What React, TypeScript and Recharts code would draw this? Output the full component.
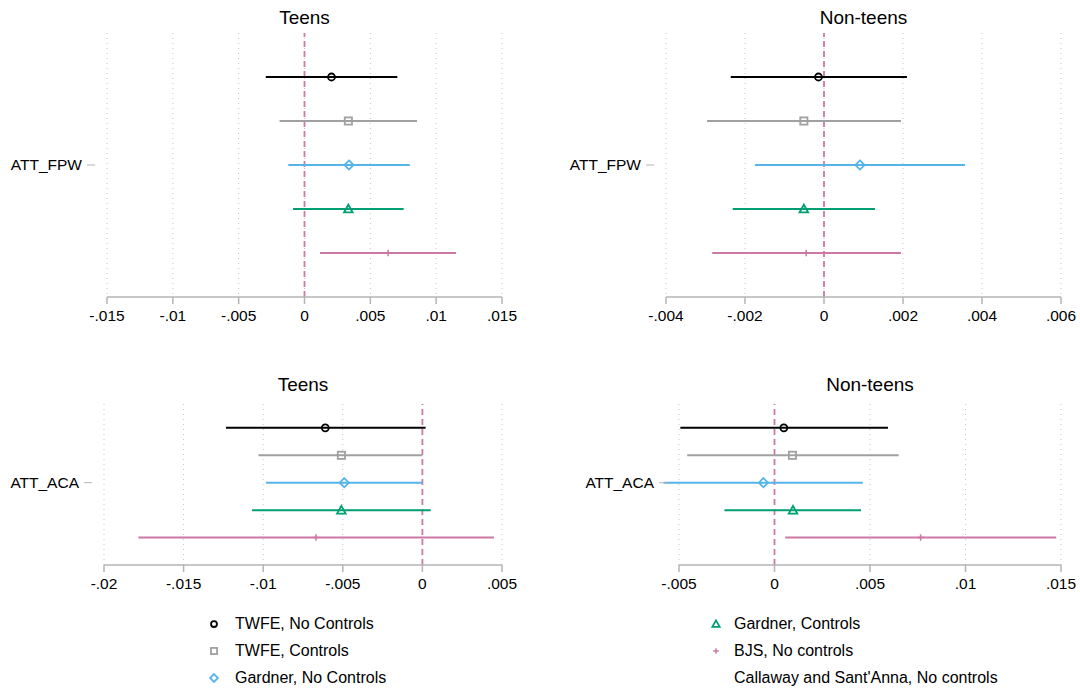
import React from "react";
import {
  ScatterChart,
  Scatter,
  XAxis,
  YAxis,
  CartesianGrid,
  ReferenceLine,
  ErrorBar,
} from "recharts";

const methods = [
  "TWFE, No Controls",
  "TWFE, Controls",
  "Gardner, No Controls",
  "Gardner, Controls",
  "BJS, No controls",
];
const extraLegend = "Callaway and Sant'Anna, No controls";
const rowPos = [5, 4, 3, 2, 1];

const colors = ["#000000", "#a0a0a0", "#56b4e9", "#009e73", "#cc79a7"];
const shapes = ["circle", "square", "diamond", "triangle", "plus"];

// ATT_FPW, teens
const fpwTeensEst = [0.00205, 0.00333, 0.00338, 0.00333, 0.00635];
const fpwTeensLo = [-0.00294, -0.00189, -0.00123, -0.00087, 0.00118];
const fpwTeensHi = [0.00705, 0.00855, 0.008, 0.00753, 0.01151];

// ATT_FPW, non-teens
const fpwNonEst = [-0.00014, -0.00051, 0.00091, -0.00051, -0.00045];
const fpwNonLo = [-0.00236, -0.00296, -0.00175, -0.00231, -0.00283];
const fpwNonHi = [0.0021, 0.00195, 0.00357, 0.00129, 0.00195];

// ATT_ACA, teens
const acaTeensEst = [-0.0061, -0.00509, -0.00491, -0.00509, -0.00669];
const acaTeensLo = [-0.01234, -0.0103, -0.00983, -0.0107, -0.01784];
const acaTeensHi = [0.0002, 0.0, 0.0, 0.00052, 0.0045];

// ATT_ACA, non-teens
const acaNonEst = [0.00049, 0.00094, -0.00058, 0.00097, 0.00765];
const acaNonLo = [-0.00493, -0.00457, -0.00581, -0.00262, 0.00056];
const acaNonHi = [0.00594, 0.0065, 0.00462, 0.00453, 0.01475];

const ticksFpwTeens = [-0.015, -0.01, -0.005, 0, 0.005, 0.01, 0.015];
const ticksFpwNon = [-0.004, -0.002, 0, 0.002, 0.004, 0.006];
const ticksAcaTeens = [-0.02, -0.015, -0.01, -0.005, 0, 0.005];
const ticksAcaNon = [-0.005, 0, 0.005, 0.01, 0.015];

const FONT = "'Liberation Sans', Arial, Helvetica, sans-serif";
const AXIS_GRAY = "#b4b4b4";

function fmtTick(v: number): string {
  if (v === 0) return "0";
  const s = String(Math.abs(v)).replace(/^0/, "");
  return (v < 0 ? "-" : "") + s;
}

function Marker({ kind, cx, cy, color, size = 1 }: { kind: string; cx: number; cy: number; color: string; size?: number }) {
  const sw = 1.8;
  if (kind === "circle") {
    return <circle cx={cx} cy={cy} r={3.5 * size} fill="none" stroke={color} strokeWidth={sw} />;
  }
  if (kind === "square") {
    const h = 3.6 * size;
    return <rect x={cx - h} y={cy - h} width={2 * h} height={2 * h} fill="none" stroke={color} strokeWidth={sw} />;
  }
  if (kind === "diamond") {
    const h = 4.6 * size;
    return (
      <path
        d={`M${cx},${cy - h}L${cx + h},${cy}L${cx},${cy + h}L${cx - h},${cy}Z`}
        fill="none"
        stroke={color}
        strokeWidth={sw}
      />
    );
  }
  if (kind === "triangle") {
    const h = 4.3 * size;
    return (
      <path
        d={`M${cx},${cy - h}L${cx + h},${cy + h * 0.8}L${cx - h},${cy + h * 0.8}Z`}
        fill="none"
        stroke={color}
        strokeWidth={sw}
      />
    );
  }
  const h = 3.3 * size;
  return (
    <path d={`M${cx - h},${cy}H${cx + h}M${cx},${cy - h}V${cy + h}`} stroke={color} strokeWidth={1.5} fill="none" />
  );
}

interface PanelProps {
  left: number;
  top: number;
  width: number;
  height: number;
  yAxisWidth: number;
  margin: { top: number; right: number; bottom: number; left: number };
  title: string;
  titleX: number;
  titleY: number;
  label: string;
  est: number[];
  lo: number[];
  hi: number[];
  ticks: number[];
  yDomain: [number, number];
}

function YTick(props: any) {
  const { x, y, label } = props;
  return (
    <g>
      <line x1={x - 20} x2={x - 12} y1={y} y2={y} stroke={AXIS_GRAY} strokeWidth={1} />
      <text x={x - 25} y={y} dy="0.35em" textAnchor="end" fill="#000" fontSize={15.5} fontFamily={FONT}>
        {label}
      </text>
    </g>
  );
}

function Panel(p: PanelProps) {
  const domain: [number, number] = [p.ticks[0], p.ticks[p.ticks.length - 1]];
  return (
    <>
      <div
        style={{
          position: "absolute",
          left: p.titleX - 100,
          top: p.titleY - 12,
          width: 200,
          height: 24,
          lineHeight: "24px",
          textAlign: "center",
          fontSize: 19,
          fontFamily: FONT,
          color: "#000",
        }}
      >
        {p.title}
      </div>
      <div style={{ position: "absolute", left: p.left, top: p.top }}>
        <ScatterChart width={p.width} height={p.height} margin={p.margin}>
          <CartesianGrid horizontal={false} stroke="#c4c4c4" strokeDasharray="1 4" />
          <XAxis
            type="number"
            dataKey="x"
            domain={domain}
            ticks={p.ticks}
            tickFormatter={fmtTick}
            allowDataOverflow
            stroke={AXIS_GRAY}
            strokeWidth={1.5}
            tickSize={7}
            tickMargin={6}
            tick={{ fill: "#000", fontSize: 15.5, fontFamily: FONT }}
            height={30}
          />
          <YAxis
            type="number"
            dataKey="y"
            domain={p.yDomain}
            ticks={[3]}
            axisLine={false}
            tickLine={false}
            tickSize={0}
            tickMargin={0}
            width={p.yAxisWidth}
            tick={<YTick label={p.label} />}
          />
          <ReferenceLine x={0} stroke="#cc79a7" strokeWidth={1.8} strokeDasharray="6 4" />
          {methods.map((m, i) => (
            <Scatter
              key={m}
              name={m}
              data={[{ x: p.est[i], y: rowPos[i], err: [p.est[i] - p.lo[i], p.hi[i] - p.est[i]] }]}
              isAnimationActive={false}
              shape={(s: any) => <Marker kind={shapes[i]} cx={s.cx} cy={s.cy} color={colors[i]} />}
            >
              <ErrorBar
                dataKey="err"
                direction="x"
                width={0}
                stroke={colors[i]}
                strokeWidth={2}
                isAnimationActive={false}
              />
            </Scatter>
          ))}
        </ScatterChart>
      </div>
    </>
  );
}

function LegendBlock() {
  const rowsY = [624, 651, 678];
  const items = [
    { i: 0, mx: 214, tx: 235, y: rowsY[0] },
    { i: 1, mx: 214, tx: 235, y: rowsY[1] },
    { i: 2, mx: 214, tx: 235, y: rowsY[2] },
    { i: 3, mx: 716, tx: 734, y: rowsY[0] },
    { i: 4, mx: 716, tx: 734, y: rowsY[1] },
  ];
  return (
    <>
      <svg style={{ position: "absolute", left: 0, top: 600 }} width={1080} height={88}>
        {items.map((it) => (
          <Marker key={it.i} kind={shapes[it.i]} cx={it.mx} cy={it.y - 600} color={colors[it.i]} size={0.85} />
        ))}
      </svg>
      {items.map((it) => (
        <div
          key={methods[it.i]}
          style={{
            position: "absolute",
            left: it.tx,
            top: it.y - 11,
            height: 22,
            lineHeight: "22px",
            fontSize: 16,
            fontFamily: FONT,
            color: "#000",
            whiteSpace: "nowrap",
          }}
        >
          {methods[it.i]}
        </div>
      ))}
      <div
        style={{
          position: "absolute",
          left: 734,
          top: rowsY[2] - 11,
          height: 22,
          lineHeight: "22px",
          fontSize: 16,
          fontFamily: FONT,
          color: "#000",
          whiteSpace: "nowrap",
        }}
      >
        {extraLegend}
      </div>
    </>
  );
}

export default function App() {
  return (
    <div
      style={{
        position: "absolute",
        left: 0,
        top: 0,
        width: 1080,
        height: 688,
        background: "#fff",
        overflow: "hidden",
      }}
    >
      <Panel
        left={0}
        top={0}
        width={540}
        height={340}
        yAxisWidth={107}
        margin={{ top: 33, right: 38, bottom: 13, left: 0 }}
        title="Teens"
        titleX={304.5}
        titleY={18}
        label="ATT_FPW"
        est={fpwTeensEst}
        lo={fpwTeensLo}
        hi={fpwTeensHi}
        ticks={ticksFpwTeens}
        yDomain={[0, 6]}
      />
      <Panel
        left={540}
        top={0}
        width={540}
        height={340}
        yAxisWidth={126}
        margin={{ top: 33, right: 19, bottom: 13, left: 0 }}
        title="Non-teens"
        titleX={863.5}
        titleY={18}
        label="ATT_FPW"
        est={fpwNonEst}
        lo={fpwNonLo}
        hi={fpwNonHi}
        ticks={ticksFpwNon}
        yDomain={[0, 6]}
      />
      <Panel
        left={0}
        top={360}
        width={540}
        height={250}
        yAxisWidth={104}
        margin={{ top: 44, right: 38, bottom: 15, left: 0 }}
        title="Teens"
        titleX={303}
        titleY={385}
        label="ATT_ACA"
        est={acaTeensEst}
        lo={acaTeensLo}
        hi={acaTeensHi}
        ticks={ticksAcaTeens}
        yDomain={[0, 5.87]}
      />
      <Panel
        left={540}
        top={360}
        width={540}
        height={250}
        yAxisWidth={139}
        margin={{ top: 44, right: 19, bottom: 15, left: 0 }}
        title="Non-teens"
        titleX={870}
        titleY={385}
        label="ATT_ACA"
        est={acaNonEst}
        lo={acaNonLo}
        hi={acaNonHi}
        ticks={ticksAcaNon}
        yDomain={[0, 5.87]}
      />
      <LegendBlock />
    </div>
  );
}
